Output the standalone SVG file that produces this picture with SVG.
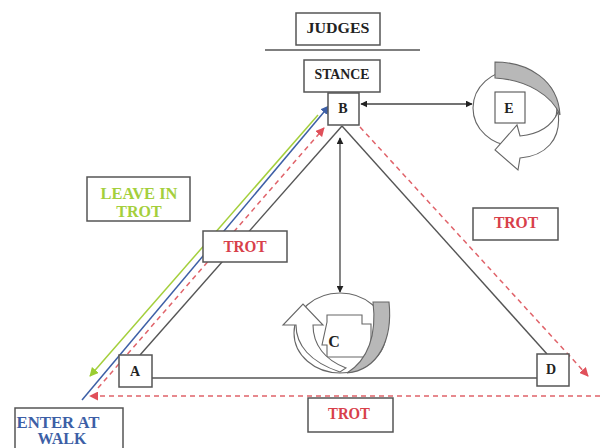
<svg xmlns="http://www.w3.org/2000/svg" width="602" height="448" viewBox="0 0 602 448">
<style>
.box{fill:#fff;stroke:#555;stroke-width:1.5}
.t{font-family:'Liberation Serif','DejaVu Serif','Times New Roman',serif;font-weight:700;text-anchor:middle}
.blk{fill:#222}
.red{fill:#d8404a;font-size:16px}
.grn{fill:#a4cf3c;font-size:16px}
.blu{fill:#3d5fa6;font-size:16px}
.ln{stroke:#555;stroke-width:1.4;fill:none}
.dl{stroke:#444;stroke-width:1.3;fill:none}
.rd{stroke:#e0636a;stroke-width:1.5;stroke-dasharray:5,4;fill:none}
.fig{stroke:#666;stroke-width:1.1}
</style>
<defs>
<marker id="mk" viewBox="0 0 10 10" refX="9" refY="5" markerWidth="7" markerHeight="7" markerUnits="userSpaceOnUse" orient="auto-start-reverse"><path d="M0,0L10,5L0,10z" fill="#222"/></marker>
<marker id="mr" viewBox="0 0 10 10" refX="9" refY="5" markerWidth="9" markerHeight="9" markerUnits="userSpaceOnUse" orient="auto"><path d="M0,0L10,5L0,10z" fill="#e0505a"/></marker>
<marker id="mb" viewBox="0 0 10 10" refX="9" refY="5" markerWidth="9" markerHeight="9" markerUnits="userSpaceOnUse" orient="auto"><path d="M0,0L10,5L0,10z" fill="#3d5fa6"/></marker>
<marker id="mg" viewBox="0 0 10 10" refX="9" refY="5" markerWidth="9" markerHeight="9" markerUnits="userSpaceOnUse" orient="auto"><path d="M0,0L10,5L0,10z" fill="#9acd32"/></marker>
</defs>
<rect width="602" height="448" fill="#fff"/>

<g id="connectors">
<line class="ln" x1="265" y1="50" x2="420" y2="50"/>
<line class="ln" x1="140" y1="355" x2="342" y2="126"/>
<line class="ln" x1="342" y1="126" x2="547" y2="354"/>
<line class="ln" x1="152" y1="378" x2="537" y2="378"/>
<line class="dl" x1="361" y1="104" x2="472" y2="104" marker-start="url(#mk)" marker-end="url(#mk)"/>
<line class="dl" x1="340" y1="138" x2="340" y2="292" marker-start="url(#mk)" marker-end="url(#mk)"/>
<line class="rd" x1="360" y1="127" x2="588" y2="376" marker-end="url(#mr)"/>
<line class="rd" x1="600" y1="396" x2="90" y2="396" marker-end="url(#mr)"/>
<line class="rd" x1="98" y1="388" x2="324" y2="128" marker-end="url(#mr)"/>
<line stroke="#3d5fa6" stroke-width="1.5" x1="82" y1="400" x2="329" y2="106" marker-end="url(#mb)"/>
<line stroke="#a4cf3c" stroke-width="1.5" x1="318" y1="115" x2="90" y2="376" marker-end="url(#mg)"/>
</g>

<g id="judges">
<rect class="box" x="296" y="13" width="84" height="32"/>
<text class="t blk" x="338" y="33" font-size="15" textLength="63" lengthAdjust="spacingAndGlyphs">JUDGES</text>
</g>
<g id="stance">
<rect class="box" x="304" y="60" width="76" height="32"/>
<text class="t blk" x="342" y="79" font-size="14" textLength="55" lengthAdjust="spacingAndGlyphs">STANCE</text>
</g>
<g id="B">
<rect class="box" x="328" y="93" width="31" height="32"/>
<text class="t blk" x="343" y="113" font-size="14">B</text>
</g>
<g id="A">
<rect class="box" x="119" y="355" width="33" height="32"/>
<text class="t blk" x="135" y="376" font-size="14">A</text>
</g>
<g id="D">
<rect class="box" x="537" y="354" width="32" height="32"/>
<text class="t blk" x="551" y="374" font-size="14">D</text>
</g>

<g id="E">
<ellipse class="fig" cx="515" cy="108" rx="42" ry="38" fill="none"/>
<path class="fig" fill="#b8b8b8" d="M495,62 C528,62 558,80 560,115 C552,96 528,80 495,78 Z"/>
<path class="fig" fill="#fff" d="M558,112 C562,140 545,156 520,158 L518,170 L495,150 L517,125 L520,136 C540,134 552,126 558,112 Z"/>
<rect class="box" x="495" y="92" width="30" height="31" style="stroke-width:1.1"/>
<text class="t blk" x="509" y="113" font-size="14">E</text>
</g>

<g id="C">
<ellipse class="fig" cx="340" cy="333" rx="46" ry="40" fill="none"/>
<path class="fig" fill="#fff" d="M327,322 L327,315 L362,315 L362,324 L371,324 L371,357 L327,357 L327,345 L322,345 Z"/>
<path class="fig" fill="#b8b8b8" d="M373,302 L389,302 C393,340 378,370 347,373 C368,360 377,335 373,302 Z"/>
<path class="fig" fill="#fff" d="M340,372 C310,362 296,345 296,325 L283,325 L303,304 L323,325 L313,325 C313,345 325,360 346,368 Z"/>
<text class="t blk" x="334" y="347" font-size="16">C</text>
</g>

<g id="leave">
<rect class="box" x="87" y="177" width="103" height="44"/>
<text class="t grn" x="139" y="199" textLength="77" lengthAdjust="spacingAndGlyphs">LEAVE IN</text>
<text class="t grn" x="139" y="217">TROT</text>
</g>
<g id="trot1">
<rect class="box" x="203" y="231" width="84" height="31"/>
<text class="t red" x="245" y="252" textLength="43" lengthAdjust="spacingAndGlyphs">TROT</text>
</g>
<g id="trot2">
<rect class="box" x="473" y="208" width="85" height="32"/>
<text class="t red" x="516" y="228" textLength="44" lengthAdjust="spacingAndGlyphs">TROT</text>
</g>
<g id="trot3">
<rect class="box" x="308" y="398" width="85" height="34"/>
<text class="t red" x="349" y="419" textLength="42" lengthAdjust="spacingAndGlyphs">TROT</text>
</g>
<g id="enter">
<rect class="box" x="15" y="408" width="108" height="45"/>
<text class="t blu" x="58" y="428" textLength="83" lengthAdjust="spacingAndGlyphs">ENTER AT</text>
<text class="t blu" x="62" y="444">WALK</text>
</g>
</svg>
